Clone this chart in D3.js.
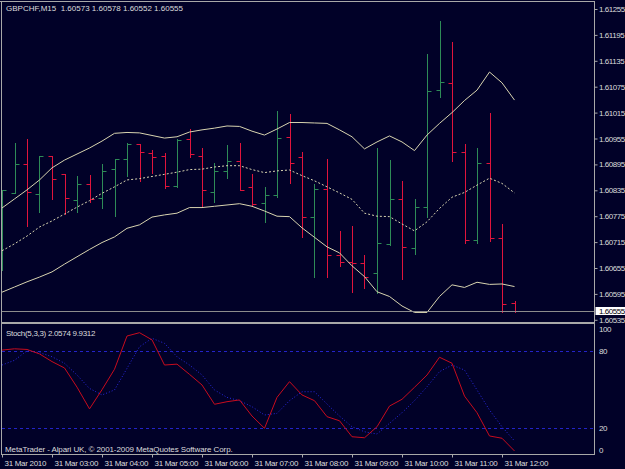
<!DOCTYPE html>
<html>
<head>
<meta charset="utf-8">
<script src="https://cdn.jsdelivr.net/npm/d3@7"></script>
<style>
  body { margin: 0; background: #010128; }
  svg text { font-family: Tahoma, "Liberation Sans", Arial, sans-serif; font-size: 8px; fill: #dcdcdc; white-space: pre; }
  .axis text { letter-spacing: -0.45px; }
</style>
</head>
<body>
<svg id="chart"></svg>
<script>
// GBPCHF M15, 31 Mar 2010
const barTimes = ["02:00","02:15","02:30","02:45","03:00","03:15","03:30","03:45","04:00","04:15","04:30","04:45",
  "05:00","05:15","05:30","05:45","06:00","06:15","06:30","06:45","07:00","07:15","07:30","07:45",
  "08:00","08:15","08:30","08:45","09:00","09:15","09:30","09:45","10:00","10:15","10:30","10:45",
  "11:00","11:15","11:30","11:45","12:00","12:15"]

const open = [1.60700,1.60829,1.60895,1.60826,1.60914,1.60873,1.60813,1.60849,1.60818,1.60884,1.60908,1.60942,
  1.60922,1.60914,1.60845,1.60953,1.60914,1.60832,1.60880,1.60903,1.60842,1.60805,1.60824,1.60959,
  1.60911,1.60772,1.60837,1.60685,1.60668,1.60666,1.60644,1.60711,1.60816,1.60701,1.60797,1.61067,
  1.61083,1.60924,1.60720,1.60898,1.60724,1.60573]
const high = [1.60836,1.60945,1.60953,1.60914,1.60914,1.60873,1.60868,1.60870,1.60895,1.60908,1.60944,1.60942,
  1.60928,1.60921,1.60953,1.60976,1.60932,1.60898,1.60940,1.60944,1.60873,1.60842,1.61019,1.61011,
  1.60924,1.60850,1.60907,1.60741,1.60752,1.60684,1.60932,1.60905,1.60857,1.60814,1.61151,1.61227,
  1.61178,1.60942,1.60932,1.61013,1.60758,1.60578]
const low = [1.60650,1.60829,1.60752,1.60785,1.60815,1.60779,1.60785,1.60809,1.60793,1.60775,1.60867,1.60857,
  1.60876,1.60840,1.60843,1.60913,1.60799,1.60809,1.60863,1.60836,1.60799,1.60761,1.60820,1.60853,
  1.60726,1.60633,1.60633,1.60660,1.60600,1.60608,1.60596,1.60708,1.60629,1.60687,1.60772,1.61050,
  1.60904,1.60712,1.60712,1.60718,1.60552,1.60552]
const close = [1.60836,1.60895,1.60832,1.60914,1.60861,1.60818,1.60849,1.60815,1.60880,1.60908,1.60942,1.60923,
  1.60913,1.60845,1.60952,1.60919,1.60836,1.60880,1.60903,1.60836,1.60803,1.60824,1.60955,1.60898,
  1.60774,1.60837,1.60685,1.60668,1.60666,1.60635,1.60714,1.60816,1.60704,1.60797,1.61065,1.61087,
  1.60924,1.60720,1.60898,1.60724,1.60572,1.60555]

// Bollinger bands
const bbUpper = [1.60794,1.60815,1.60836,1.60859,1.60887,1.60905,1.60919,1.60933,1.60949,1.60967,1.60969,1.60968,
  1.60962,1.60956,1.60959,1.60970,1.60975,1.60979,1.60984,1.60983,1.60972,1.60963,1.60977,1.60992,
  1.60992,1.60991,1.60990,1.60975,1.60959,1.60931,1.60947,1.60961,1.60947,1.60927,1.60963,1.60990,
  1.61015,1.61043,1.61067,1.61109,1.61084,1.61044]
const bbMiddle = [1.60695,1.60711,1.60729,1.60750,1.60764,1.60780,1.60796,1.60811,1.60828,1.60843,1.60859,1.60862,
  1.60867,1.60872,1.60877,1.60883,1.60884,1.60889,1.60892,1.60892,1.60883,1.60876,1.60880,1.60882,
  1.60869,1.60857,1.60843,1.60829,1.60814,1.60782,1.60775,1.60774,1.60757,1.60741,1.60762,1.60793,
  1.60819,1.60830,1.60847,1.60863,1.60851,1.60829]
const bbLower = [1.60599,1.60611,1.60623,1.60634,1.60646,1.60664,1.60681,1.60698,1.60714,1.60727,1.60747,1.60755,
  1.60773,1.60778,1.60782,1.60795,1.60795,1.60798,1.60801,1.60804,1.60798,1.60787,1.60775,1.60774,
  1.60748,1.60726,1.60704,1.60690,1.60660,1.60635,1.60600,1.60589,1.60567,1.60552,1.60552,1.60589,
  1.60616,1.60610,1.60622,1.60617,1.60618,1.60612]

// Stoch(5,3,3)
const stochMain = [81,82,81.5,78,72,67,52,35,50,66,92,94.6,89,69.3,70,62,53.7,38.6,40.6,42,29.4,19.8,
  44,56.3,45.9,41.4,28.9,25.7,13.2,12.4,21,37.2,42.5,51.9,61.5,75.4,70.7,45,32,13.8,12,2.0574]
const stochSignal = [69.3,73,80.5,79,75.8,70.7,61.5,51,45.9,49.8,66.7,83.6,90.2,86.3,75.8,69.3,61.5,49.8,
  44,41.4,36.7,30.2,31.5,41.4,48.4,48.4,38.8,29.4,21,17.1,15.3,23.7,32,41.4,52.3,64.1,69.3,65.4,
  49.8,34.1,21,9.9312]
const stochLevels = [80, 20]

const priceTicks = [1.61255,1.61195,1.61135,1.61075,1.61015,1.60955,1.60895,1.60835,1.60775,1.60715,1.60655,1.60595,1.60535]
const stochTicks = [100, 80, 20, 0]
const timeTicks = [0,4,8,12,16,20,24,28,32,36,40]
const timeTickLabels = ["31 Mar 2010","31 Mar 03:00","31 Mar 04:00","31 Mar 05:00","31 Mar 06:00","31 Mar 07:00",
  "31 Mar 08:00","31 Mar 09:00","31 Mar 10:00","31 Mar 11:00","31 Mar 12:00"]

const W = 625, H = 469
const axisX = 594.5
const frameColor = '#a8a8a8'

const svg = d3.select('#chart').attr('width', W).attr('height', H)
svg.append('rect').attr('width', W).attr('height', H).attr('fill', '#010128')

const x = d3.scaleLinear().domain([0, barTimes.length - 1]).range([2, 514.5])
const yPrice = d3.scaleLinear().domain([1.60535, 1.61255]).range([319.8, 9])
const yStoch = d3.scaleLinear().domain([0, 100]).range([453.6, 325.8])

const px = v => Math.round(v) + 0.5

const defs = svg.append('defs')
defs.append('clipPath').attr('id', 'clipMain')
    .append('rect').attr('x', 2).attr('y', 2).attr('width', axisX - 2).attr('height', 320)
defs.append('clipPath').attr('id', 'clipStoch')
    .append('rect').attr('x', 2).attr('y', 325).attr('width', axisX - 2).attr('height', 129)

// main window
const main = svg.append('g').attr('clip-path', 'url(#clipMain)')

const idx = d3.range(barTimes.length)

main.selectAll('.bar')
    .data(idx)
    .enter().append('path')
    .attr('class', 'bar')
    .attr('fill', 'none')
    .attr('stroke-width', 1)
    .attr('stroke', i => close[i] >= open[i] ? '#2e8b57' : '#e0143c')
    .attr('d', i => {
        const xx = px(x(i))
        return `M${xx},${Math.round(yPrice(high[i]))}V${Math.round(yPrice(low[i])) + 1}` +
            `M${xx - 4},${px(yPrice(open[i]))}H${xx}` +
            `M${xx},${px(yPrice(close[i]))}H${xx + 4}`
    })

const bandLine = arr => d3.line()
    .x(i => x(i))
    .y(i => yPrice(arr[i]))

main.append('path')
    .datum(idx)
    .attr('fill', 'none')
    .attr('stroke', '#d8d4b0')
    .attr('stroke-width', 1)
    .attr('d', bandLine(bbUpper))

main.append('path')
    .datum(idx)
    .attr('fill', 'none')
    .attr('stroke', '#d8d4b0')
    .attr('stroke-width', 1)
    .style('stroke-dasharray', '2, 2')
    .attr('d', bandLine(bbMiddle))

main.append('path')
    .datum(idx)
    .attr('fill', 'none')
    .attr('stroke', '#d8d4b0')
    .attr('stroke-width', 1)
    .attr('d', bandLine(bbLower))

// bid line
const last = close[close.length - 1]
main.append('line')
    .attr('x1', 2).attr('x2', axisX)
    .attr('y1', px(yPrice(last))).attr('y2', px(yPrice(last)))
    .attr('stroke', '#8c8c8c')

svg.append('text')
    .attr('x', 6).attr('y', 11)
    .text(`GBPCHF,M15  ${open[41].toFixed(5)} ${high[41].toFixed(5)} ${low[41].toFixed(5)} ${last.toFixed(5)}`)

// price axis
const priceAxis = d3.axisRight(yPrice)
    .tickValues(priceTicks)
    .tickFormat(d3.format('.5f'))
    .tickSize(3)
    .tickSizeOuter(0)

const pAxis = svg.append('g')
    .attr('class', 'axis')
    .attr('transform', `translate(${axisX},0)`)
    .call(priceAxis)
pAxis.select('.domain').remove()
pAxis.selectAll('line').attr('stroke', frameColor)
pAxis.selectAll('text').attr('x', 4.5).style('font-size', '8px').attr('fill', '#dcdcdc')

const bidY = Math.round(yPrice(last))
svg.append('rect')
    .attr('x', axisX + 1).attr('y', bidY - 4)
    .attr('width', W - axisX - 1).attr('height', 8)
    .attr('fill', '#ffffff')
svg.append('text')
    .attr('x', axisX + 4.5).attr('y', bidY)
    .attr('dy', '0.32em')
    .style('fill', '#000000')
    .style('letter-spacing', '-0.45px')
    .text(last.toFixed(5))

// stochastic window
const sub = svg.append('g').attr('clip-path', 'url(#clipStoch)')

sub.selectAll('.level')
    .data(stochLevels)
    .enter().append('line')
    .attr('class', 'level')
    .attr('x1', 2).attr('x2', axisX)
    .attr('y1', d => px(yStoch(d))).attr('y2', d => px(yStoch(d)))
    .attr('stroke', '#2323c8')
    .style('stroke-dasharray', '3, 3')

const stochLine = arr => d3.line()
    .x(i => x(i))
    .y(i => yStoch(arr[i]))

sub.append('path')
    .datum(idx)
    .attr('fill', 'none')
    .attr('stroke', '#2a2ae0')
    .attr('stroke-width', 1)
    .style('stroke-dasharray', '1, 2')
    .attr('d', stochLine(stochSignal))

sub.append('path')
    .datum(idx)
    .attr('fill', 'none')
    .attr('stroke', '#c80c1e')
    .attr('stroke-width', 1)
    .attr('d', stochLine(stochMain))

svg.append('text')
    .attr('x', 6).attr('y', 336)
    .style('letter-spacing', '-0.3px')
    .text(`Stoch(5,3,3) ${stochMain[41].toFixed(4)} ${stochSignal[41].toFixed(4)}`)

svg.append('text')
    .attr('x', 5).attr('y', 452)
    .style('letter-spacing', '-0.1px')
    .text('MetaTrader - Alpari UK, \u00a9 2001-2009 MetaQuotes Software Corp.')

const stochAxis = d3.axisRight(yStoch)
    .tickValues(stochTicks)
    .tickSize(3)
    .tickSizeOuter(0)
const sAxis = svg.append('g')
    .attr('class', 'axis')
    .attr('transform', `translate(${axisX},0)`)
    .call(stochAxis)
sAxis.select('.domain').remove()
sAxis.selectAll('line').remove()
sAxis.selectAll('text')
    .attr('x', 4.5)
    .attr('y', d => d === 100 ? 3.5 : d === 0 ? -3.5 : 0)
    .style('font-size', '8px').attr('fill', '#dcdcdc')

// time axis
const timeAxis = d3.axisBottom(x)
    .tickValues(timeTicks)
    .tickFormat((d, i) => timeTickLabels[i])
    .tickSize(3)
    .tickSizeOuter(0)
const tAxis = svg.append('g')
    .attr('class', 'axis')
    .attr('transform', 'translate(0,454.5)')
    .call(timeAxis)
tAxis.select('.domain').remove()
tAxis.selectAll('.tick').attr('transform', d => `translate(${px(x(d))},0)`)
tAxis.selectAll('line').attr('stroke', frameColor)
tAxis.selectAll('text')
    .attr('y', 11)
    .attr('x', 2)
    .attr('dy', 0)
    .style('text-anchor', 'start')
    .style('font-size', '8px')
    .style('letter-spacing', '-0.3px')
    .attr('fill', '#dcdcdc')

// window frames
const frame = svg.append('g').attr('stroke', frameColor).attr('fill', 'none')
frame.append('line').attr('x1', 0).attr('x2', axisX).attr('y1', 1.5).attr('y2', 1.5)
frame.append('line').attr('x1', 1.5).attr('x2', 1.5).attr('y1', 1).attr('y2', 455)
frame.append('line').attr('x1', axisX).attr('x2', axisX).attr('y1', 1).attr('y2', 455)
frame.append('line').attr('x1', 1).attr('x2', axisX).attr('y1', 454.5).attr('y2', 454.5)
frame.append('line').attr('x1', 1).attr('x2', axisX).attr('y1', 322.5).attr('y2', 322.5)
frame.append('line').attr('x1', 1).attr('x2', axisX).attr('y1', 323.5).attr('y2', 323.5)
</script>
</body>
</html>
